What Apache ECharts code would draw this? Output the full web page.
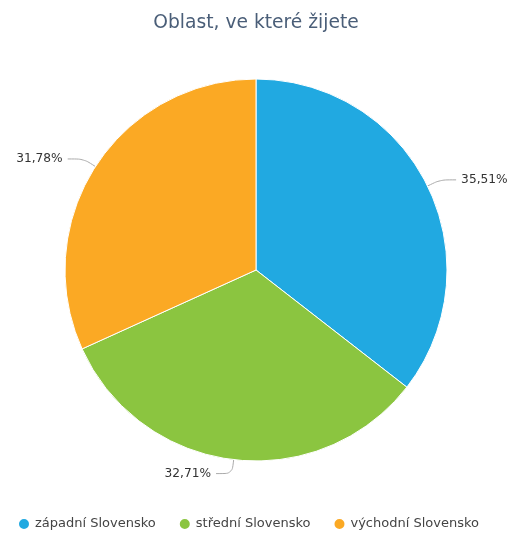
<!DOCTYPE html>
<html>
<head>
<meta charset="utf-8">
<script src="https://cdn.jsdelivr.net/npm/echarts@6/dist/echarts.min.js"></script>
<style>
  html, body { margin: 0; padding: 0; background: #fff; }
  #chart { width: 512px; height: 539px; }
</style>
</head>
<body>
<div id="chart"></div>
<script>
// Region shares (percent)
const categories = ['západní Slovensko', 'střední Slovensko', 'východní Slovensko'];
const shares = [35.51, 32.71, 31.78];
const colors = ['#21a9e1', '#8bc540', '#fba924'];

const chart = echarts.init(document.getElementById('chart'), null, { renderer: 'canvas' });

const fontFamily = 'DejaVu Sans';

chart.setOption({
  animation: false,
  color: colors,
  textStyle: { fontFamily },
  title: {
    text: 'Oblast, ve které žijete',
    left: 'center',
    top: 9,
    textStyle: { fontFamily, fontSize: 18.7, fontWeight: 'normal', color: '#4a5e78' }
  },
  legend: {
    bottom: 3,
    left: 12,
    icon: 'circle',
    itemWidth: 12,
    itemHeight: 12,
    itemGap: 22,
    textStyle: { fontFamily, fontSize: 13, color: '#444' },
    data: categories
  },
  series: [{
    type: 'pie',
    center: [256, 270],
    radius: [0, 191],
    startAngle: 90,
    clockwise: true,
    itemStyle: { borderColor: '#fff', borderWidth: 1 },
    label: {
      show: true,
      fontFamily,
      fontSize: 12.2,
      color: '#333',
      overflow: 'none',
      bleedMargin: 0,
      formatter: p => p.value.toFixed(2).replace('.', ',') + '%'
    },
    labelLine: {
      show: true,
      length: 14,
      length2: 16,
      smooth: 0.3,
      lineStyle: { color: '#aaa', width: 1 }
    },
    emphasis: { disabled: true },
    data: categories.map((name, i) => ({ name, value: shares[i] }))
  }]
});
</script>
</body>
</html>
